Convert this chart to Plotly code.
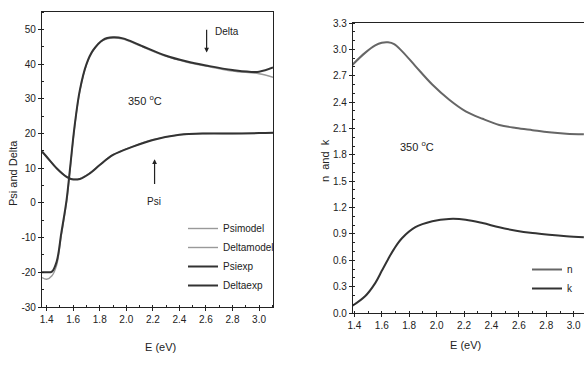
import plotly.graph_objects as go

# ---------------- data ----------------
E_psi = [1.365, 1.40, 1.475, 1.55, 1.59, 1.65, 1.725, 1.80, 1.90, 2.05, 2.20, 2.40, 2.60, 2.80, 3.00, 3.105]
psi_exp = [14.8, 13.3, 10.0, 7.5, 6.8, 6.9, 8.5, 10.9, 13.8, 16.2, 18.1, 19.6, 20.0, 20.0, 20.1, 20.2]
psi_model = [14.6, 13.2, 10.0, 7.6, 6.9, 7.0, 8.6, 11.0, 13.9, 16.3, 18.2, 19.6, 20.0, 20.0, 20.1, 20.2]

E_delta = [1.365, 1.40, 1.44, 1.475, 1.51, 1.55, 1.575, 1.61, 1.65, 1.70, 1.75, 1.825, 1.90, 1.975,
           2.10, 2.30, 2.45, 2.60, 2.80, 3.00, 3.105]
delta_exp = [-20.0, -20.0, -19.8, -17.0, -8.8, 0.8, 9.5, 22.0, 32.5, 40.0, 44.0, 47.0, 47.7, 47.4,
             45.5, 42.4, 40.8, 39.6, 38.3, 37.8, 39.0]
delta_model = [-21.5, -22.0, -21.0, -18.0, -9.5, 0.2, 9.0, 21.6, 32.2, 39.8, 43.8, 46.8, 47.5, 47.2,
               45.3, 42.2, 40.6, 39.4, 38.0, 37.2, 36.2]

E_nk = [1.38, 1.478, 1.552, 1.60, 1.645, 1.69, 1.747, 1.845, 1.968, 2.09, 2.212, 2.335, 2.457, 2.58,
        2.70, 2.82, 2.946, 3.074]
n_vals = [2.815, 2.96, 3.045, 3.075, 3.08, 3.06, 2.98, 2.81, 2.60, 2.43, 2.295, 2.21, 2.14, 2.105,
          2.08, 2.056, 2.04, 2.033]
k_vals = [0.076, 0.19, 0.34, 0.48, 0.61, 0.73, 0.85, 0.976, 1.043, 1.07, 1.062, 1.024, 0.975, 0.937,
          0.91, 0.89, 0.873, 0.861]

left_xticks = [1.4, 1.6, 1.8, 2.0, 2.2, 2.4, 2.6, 2.8, 3.0]
left_yticks = [-30, -20, -10, 0, 10, 20, 30, 40, 50]
right_yticks = [0.0, 0.3, 0.6, 0.9, 1.2, 1.5, 1.8, 2.1, 2.4, 2.7, 3.0, 3.3]

FONT = "Liberation Sans, Arial, sans-serif"
INK = "#222222"
W, H = 584, 368

fig = go.Figure()

# ---------------- left panel (its legend is "legend2") ----------------
fig.add_trace(go.Scatter(x=E_psi, y=psi_model, name="Psimodel", mode="lines", line_shape="spline",
                         line=dict(color="#999999", width=1.4), xaxis="x", yaxis="y", legend="legend2"))
fig.add_trace(go.Scatter(x=E_delta, y=delta_model, name="Deltamodel", mode="lines", line_shape="spline",
                         line=dict(color="#999999", width=1.4), xaxis="x", yaxis="y", legend="legend2"))
fig.add_trace(go.Scatter(x=E_psi, y=psi_exp, name="Psiexp", mode="lines", line_shape="spline",
                         line=dict(color="#333333", width=2), xaxis="x", yaxis="y", legend="legend2"))
fig.add_trace(go.Scatter(x=E_delta, y=delta_exp, name="Deltaexp", mode="lines", line_shape="spline",
                         line=dict(color="#333333", width=2), xaxis="x", yaxis="y", legend="legend2"))

# ---------------- right panel (its legend is "legend") ----------------
fig.add_trace(go.Scatter(x=E_nk, y=n_vals, name="n", mode="lines", line_shape="spline",
                         line=dict(color="#666666", width=2), xaxis="x2", yaxis="y2", legend="legend"))
fig.add_trace(go.Scatter(x=E_nk, y=k_vals, name="k", mode="lines", line_shape="spline",
                         line=dict(color="#333333", width=2), xaxis="x2", yaxis="y2", legend="legend"))

tickfont = dict(family=FONT, size=10, color=INK)
titlefont = dict(family=FONT, size=11, color=INK)
axis_common = dict(showgrid=False, zeroline=False, showline=True, linecolor=INK, linewidth=1.2,
                   ticks="outside", ticklen=3, tickcolor=INK, tickfont=tickfont, mirror=True,
                   automargin=False)

fig.update_layout(
    width=W, height=H,
    margin=dict(l=0, r=0, t=0, b=0, autoexpand=False),
    paper_bgcolor="white", plot_bgcolor="white",
    font=dict(family=FONT, color=INK),
    xaxis=dict(domain=[42 / W, 273 / W], range=[1.365, 3.105], anchor="y",
               tickvals=left_xticks, ticktext=[f"{v:.1f}" for v in left_xticks],
               minor=dict(dtick=0.1, tick0=1.4, ticks="inside", ticklen=2, tickcolor=INK),
               **axis_common),
    yaxis=dict(domain=[1 - 307 / H, 1 - 12 / H], range=[-30, 55], anchor="x",
               tickvals=left_yticks, ticktext=[str(v) for v in left_yticks],
               minor=dict(dtick=5, tick0=0, ticks="inside", ticklen=2, tickcolor=INK),
               **axis_common),
    xaxis2=dict(domain=[353 / W, 1.0], range=[1.39, 3.075], anchor="y2",
                tickvals=left_xticks, ticktext=[f"{v:.1f}" for v in left_xticks],
                minor=dict(dtick=0.1, tick0=1.4, ticks="inside", ticklen=2, tickcolor=INK),
                **axis_common),
    yaxis2=dict(domain=[1 - 313 / H, 1 - 23 / H], range=[0, 3.3], anchor="x2",
                tickvals=right_yticks, ticktext=[f"{v:.1f}" for v in right_yticks],
                minor=dict(dtick=0.1, tick0=0, ticks="inside", ticklen=2, tickcolor=INK),
                **axis_common),
    legend2=dict(x=183 / W, y=1 - 214 / H, xanchor="left", yanchor="top", bgcolor="rgba(0,0,0,0)",
                 font=dict(family=FONT, size=10, color=INK), itemwidth=30, tracegroupgap=0,
                 traceorder="normal"),
    legend=dict(x=527 / W, y=1 - 255 / H, xanchor="left", yanchor="top", bgcolor="rgba(0,0,0,0)",
                font=dict(family=FONT, size=10, color=INK), itemwidth=30, tracegroupgap=0,
                traceorder="normal"),
    showlegend=True,
)

# axis titles
fig.add_annotation(x=160 / W, y=1 - 347 / H, xref="paper", yref="paper", text="E (eV)", showarrow=False,
                   xanchor="center", yanchor="middle", font=titlefont)
fig.add_annotation(x=465 / W, y=1 - 345 / H, xref="paper", yref="paper", text="E (eV)", showarrow=False,
                   xanchor="center", yanchor="middle", font=titlefont)
fig.add_annotation(x=13 / W, y=1 - 173 / H, xref="paper", yref="paper", text="Psi and Delta", showarrow=False,
                   xanchor="center", yanchor="middle", textangle=-90, font=titlefont)
fig.add_annotation(x=325 / W, y=1 - 160 / H, xref="paper", yref="paper", text="n  and  k", showarrow=False,
                   xanchor="center", yanchor="middle", textangle=-90, font=titlefont)

# in-plot labels and arrows
fig.add_annotation(x=2.14, y=29.6, xref="x", yref="y", text="350 <sup>o</sup>C", showarrow=False,
                   font=dict(family=FONT, size=11, color=INK))
fig.add_annotation(x=2.76, y=49.3, xref="x", yref="y", text="Delta", showarrow=False,
                   font=dict(family=FONT, size=10, color=INK))
fig.add_annotation(x=2.605, y=43.3, ax=2.605, ay=50.3, xref="x", yref="y", axref="x", ayref="y",
                   text="", showarrow=True, arrowhead=2, arrowsize=0.8, arrowwidth=1.2, arrowcolor=INK)
fig.add_annotation(x=2.205, y=0.3, xref="x", yref="y", text="Psi", showarrow=False,
                   font=dict(family=FONT, size=10, color=INK))
fig.add_annotation(x=2.213, y=12.6, ax=2.213, ay=5.0, xref="x", yref="y", axref="x", ayref="y",
                   text="", showarrow=True, arrowhead=2, arrowsize=0.8, arrowwidth=1.2, arrowcolor=INK)
fig.add_annotation(x=1.86, y=1.9, xref="x2", yref="y2", text="350 <sup>o</sup>C", showarrow=False,
                   font=dict(family=FONT, size=11, color=INK))

fig.write_html("out.html", config={"displayModeBar": False},
               post_script="document.body.style.margin='0';")
